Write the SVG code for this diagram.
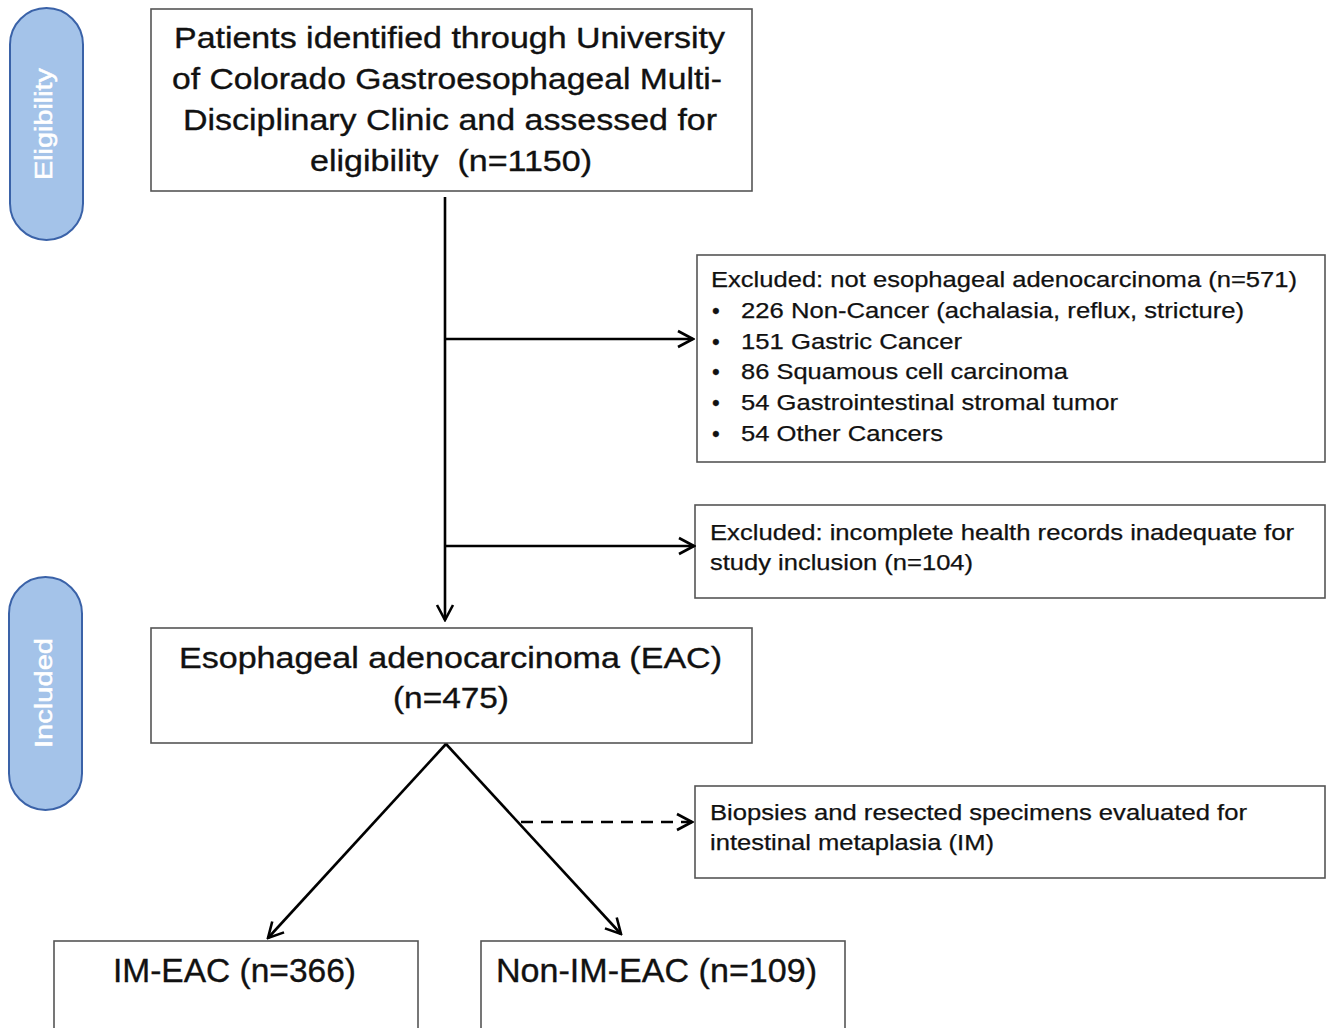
<svg xmlns="http://www.w3.org/2000/svg" width="1333" height="1028" viewBox="0 0 1333 1028">
<style>
.box{fill:#fff;stroke:#555;stroke-width:1.6}
.pill{fill:#a4c3e9;stroke:#3a62a8;stroke-width:2}
.t{font-family:"Liberation Sans",Arial,sans-serif;fill:#111;stroke:#111;stroke-width:0.35;white-space:pre}
.big{font-size:30px}
.bot{font-size:33px}
.sm{font-size:22px;stroke-width:0.25}
.pt{font-family:"Liberation Sans",Arial,sans-serif;fill:#fff;stroke:#fff;stroke-width:0.5;font-size:23px;text-anchor:middle}
.ln{stroke:#000;stroke-width:2.6;fill:none}
</style>
<defs>
<marker id="ah" viewBox="-18 -11 20 22" refX="0" refY="0" markerWidth="20" markerHeight="22" markerUnits="userSpaceOnUse" orient="auto">
<path d="M-15,-8 L0,0 L-15,8" fill="none" stroke="#000" stroke-width="2.6"/>
</marker>
</defs>
<rect width="1333" height="1028" fill="#fff"/>

<g id="eligibility">
<rect class="pill" x="10" y="8" width="73" height="232" rx="36.5"/>
<text class="pt" transform="translate(52,124) rotate(-90)" textLength="112" lengthAdjust="spacingAndGlyphs">Eligibility</text>
</g>
<g id="included">
<rect class="pill" x="9" y="577" width="73" height="233" rx="36.5"/>
<text class="pt" transform="translate(52,693) rotate(-90)" textLength="110" lengthAdjust="spacingAndGlyphs">Included</text>
</g>

<g id="identified">
<rect class="box" x="151" y="9" width="601" height="182"/>
<text class="t big" x="174" y="48" textLength="551" lengthAdjust="spacingAndGlyphs">Patients identified through University</text>
<text class="t big" x="172" y="89" textLength="550" lengthAdjust="spacingAndGlyphs">of Colorado Gastroesophageal Multi-</text>
<text class="t big" x="183" y="130" textLength="534" lengthAdjust="spacingAndGlyphs">Disciplinary Clinic and assessed for</text>
<text class="t big" x="310" y="171" textLength="282" lengthAdjust="spacingAndGlyphs">eligibility  (n=1150)</text>
</g>

<g id="excluded1">
<rect class="box" x="697" y="255" width="628" height="207"/>
<text class="t sm" x="711" y="287" textLength="586" lengthAdjust="spacingAndGlyphs">Excluded: not esophageal adenocarcinoma (n=571)</text>
<text class="t sm" x="712" y="318">•</text>
<text class="t sm" x="741" y="318" textLength="503" lengthAdjust="spacingAndGlyphs">226 Non-Cancer (achalasia, reflux, stricture)</text>
<text class="t sm" x="712" y="349">•</text>
<text class="t sm" x="741" y="349" textLength="221" lengthAdjust="spacingAndGlyphs">151 Gastric Cancer</text>
<text class="t sm" x="712" y="379">•</text>
<text class="t sm" x="741" y="379" textLength="327" lengthAdjust="spacingAndGlyphs">86 Squamous cell carcinoma</text>
<text class="t sm" x="712" y="410">•</text>
<text class="t sm" x="741" y="410" textLength="377" lengthAdjust="spacingAndGlyphs">54 Gastrointestinal stromal tumor</text>
<text class="t sm" x="712" y="441">•</text>
<text class="t sm" x="741" y="441" textLength="202" lengthAdjust="spacingAndGlyphs">54 Other Cancers</text>
</g>

<g id="excluded2">
<rect class="box" x="695" y="505" width="630" height="93"/>
<text class="t sm" x="710" y="540" textLength="584" lengthAdjust="spacingAndGlyphs">Excluded: incomplete health records inadequate for</text>
<text class="t sm" x="710" y="570" textLength="263" lengthAdjust="spacingAndGlyphs">study inclusion (n=104)</text>
</g>

<g id="eac">
<rect class="box" x="151" y="628" width="601" height="115"/>
<text class="t big" x="179" y="668" textLength="543" lengthAdjust="spacingAndGlyphs">Esophageal adenocarcinoma (EAC)</text>
<text class="t big" x="393" y="708" textLength="116" lengthAdjust="spacingAndGlyphs">(n=475)</text>
</g>

<g id="biopsies">
<rect class="box" x="695" y="786" width="630" height="92"/>
<text class="t sm" x="710" y="820" textLength="537" lengthAdjust="spacingAndGlyphs">Biopsies and resected specimens evaluated for</text>
<text class="t sm" x="710" y="850" textLength="284" lengthAdjust="spacingAndGlyphs">intestinal metaplasia (IM)</text>
</g>

<g id="im-eac">
<rect class="box" x="54" y="941" width="364" height="110"/>
<text class="t bot" x="113" y="982" textLength="243" lengthAdjust="spacingAndGlyphs">IM-EAC (n=366)</text>
</g>
<g id="non-im-eac">
<rect class="box" x="481" y="941" width="364" height="110"/>
<text class="t bot" x="496" y="982" textLength="321" lengthAdjust="spacingAndGlyphs">Non-IM-EAC (n=109)</text>
</g>

<g id="connectors">
<line class="ln" x1="445" y1="197" x2="445" y2="620" marker-end="url(#ah)"/>
<line class="ln" x1="445" y1="339" x2="693" y2="339" marker-end="url(#ah)"/>
<line class="ln" x1="445" y1="546" x2="694" y2="546" marker-end="url(#ah)"/>
<line class="ln" x1="446" y1="744" x2="268" y2="938" marker-end="url(#ah)"/>
<line class="ln" x1="446" y1="744" x2="621" y2="934" marker-end="url(#ah)"/>
<line class="ln" x1="521" y1="822" x2="692" y2="822" stroke-dasharray="12 8" marker-end="url(#ah)"/>
</g>
</svg>
